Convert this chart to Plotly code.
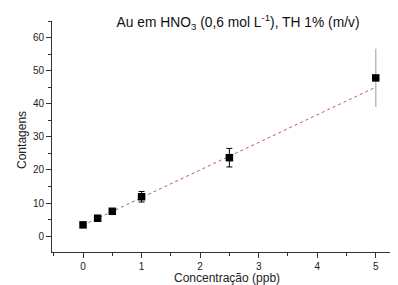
import plotly.graph_objects as go

conc = [0, 0.25, 0.5, 1, 2.5]
counts = [3.4, 5.4, 7.5, 11.9, 23.7]
err = [0.6, 0.4, 0.4, 1.6, 2.8]
conc_hi = [5]
counts_hi = [47.8]
err_hi = [8.8]
fit_x = [0, 5]
fit_y = [3.3, 45.0]

font = "Liberation Sans, Arial, sans-serif"

fig = go.Figure()
fig.add_trace(go.Scatter(x=fit_x, y=fit_y, mode="lines",
                         line=dict(color="#a83030", width=0.8, dash="dot"), showlegend=False))
fig.add_trace(go.Scatter(x=conc, y=counts, mode="markers",
                         marker=dict(symbol="square", size=7.5, color="black"),
                         error_y=dict(type="data", array=err, color="black", thickness=1, width=3),
                         showlegend=False))
fig.add_trace(go.Scatter(x=conc_hi, y=counts_hi, mode="markers",
                         marker=dict(symbol="square", size=7.5, color="black"),
                         error_y=dict(type="data", array=err_hi, color="#bbbbbb", thickness=1.5, width=0),
                         showlegend=False))

fig.update_layout(
    width=398, height=285,
    margin=dict(l=44, r=8, t=13, b=41),
    paper_bgcolor="white", plot_bgcolor="white",
    font=dict(family=font, color="#222222"),
    title=dict(text="Au em HNO<sub>3</sub> (0,6 mol L<sup>-1</sup>), TH 1% (m/v)",
               x=0.578, xanchor="center", y=0.951, yanchor="middle",
               font=dict(size=13.8, family=font, color="#111111")),
    annotations=[
        dict(text="Concentração (ppb)", xref="paper", yref="paper", x=0.505, y=0,
             xanchor="center", yanchor="top", yshift=-17, showarrow=False,
             font=dict(size=12, family=font, color="#222222")),
        dict(text="Contagens", xref="paper", yref="paper", x=0, y=0.485,
             xanchor="center", yanchor="middle", xshift=-30, textangle=-90, showarrow=False,
             font=dict(size=12, family=font, color="#222222")),
    ],
)
fig.update_xaxes(range=[-0.53, 5.38], showgrid=False, zeroline=False, automargin=False,
                 showline=True, linecolor="#333333", linewidth=1,
                 ticks="outside", ticklen=5, tickcolor="#333333",
                 tickvals=[0, 1, 2, 3, 4, 5], tickfont=dict(size=10, family=font),
                 minor=dict(ticks="outside", ticklen=3, dtick=0.5, tick0=0, tickcolor="#333333"))
fig.update_yaxes(range=[-4.8, 65], showgrid=False, zeroline=False, automargin=False,
                 showline=True, linecolor="#333333", linewidth=1,
                 ticks="outside", ticklen=5, tickcolor="#333333",
                 tickvals=[0, 10, 20, 30, 40, 50, 60], tickfont=dict(size=10, family=font),
                 minor=dict(ticks="outside", ticklen=3, dtick=5, tick0=0, tickcolor="#333333"))

fig.write_html("out.html")
